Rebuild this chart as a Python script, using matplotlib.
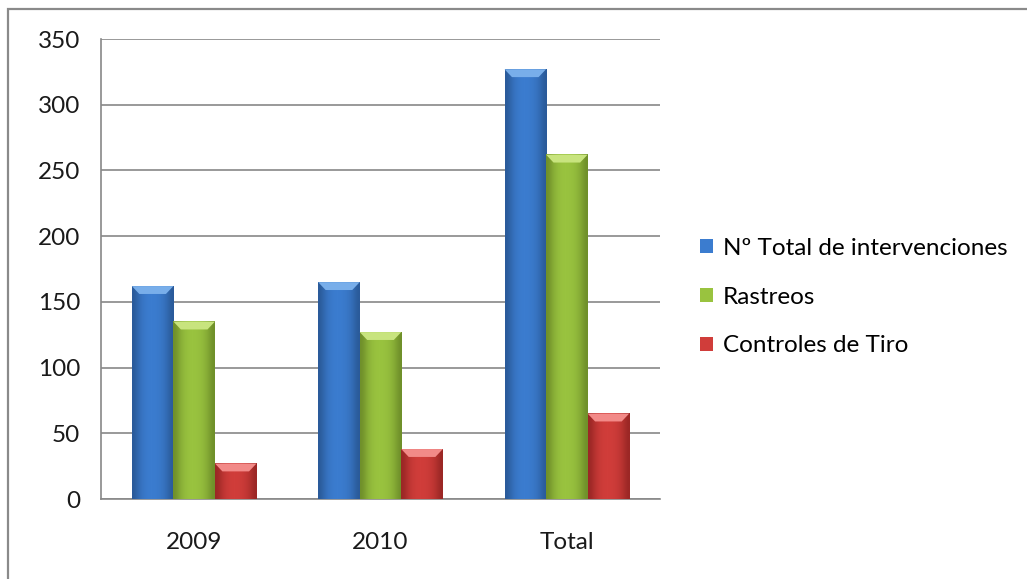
import numpy as np
import matplotlib
matplotlib.use("Agg")
import matplotlib.pyplot as plt
from matplotlib.colors import LinearSegmentedColormap
from matplotlib.patches import Rectangle, Polygon

# Data
categories = ["2009", "2010", "Total"]
series_names = ["Nº Total de intervenciones", "Rastreos", "Controles de Tiro"]
total_interv = [162, 165, 327]
rastreos = [135, 127, 262]
controles = [27, 38, 65]
y_ticks = [0, 50, 100, 150, 200, 250, 300, 350]

base_cols = ["#3b7ccf", "#99c33f", "#d03d3a"]
dark_cols = ["#2a5a99", "#6f8f2a", "#9a2725"]
light_cols = ["#78aeea", "#c8e47e", "#f28a88"]

plt.rcParams["font.family"] = ["Lato", "DejaVu Sans"]

fig = plt.figure(figsize=(10.27, 5.79), dpi=100)
ax = fig.add_axes([101/1027, 1 - 499/579, 559/1027, 460/579])

x = np.arange(len(categories))
w = 0.223
containers = []
for i, vals in enumerate([total_interv, rastreos, controles]):
    bc = ax.bar(x + (i - 1) * w, vals, w, color=base_cols[i], label=series_names[i], zorder=3)
    containers.append(bc)

# fake the bevelled look of the bars
grad = np.array([[0.0, 0.55, 0.85, 1.0, 1.0, 0.95, 0.8, 0.5, 0.0]])
for i, bc in enumerate(containers):
    cmap = LinearSegmentedColormap.from_list("c%d" % i, [dark_cols[i], base_cols[i]])
    for b in bc:
        x0, bw, h = b.get_x(), b.get_width(), b.get_height()
        ax.imshow(grad, extent=(x0, x0 + bw, 0, h), aspect="auto", cmap=cmap,
                  interpolation="bicubic", zorder=4)
        dx = bw * 0.18
        dy = min(6, h * 0.3)
        ax.add_patch(Polygon([(x0, h), (x0 + bw, h), (x0 + bw - dx, h - dy), (x0 + dx, h - dy)],
                             closed=True, color=light_cols[i], lw=0, zorder=5))

ax.set_xlim(-0.5, 2.5)
ax.set_ylim(0, 350)
ax.set_xticks(x)
ax.set_xticklabels(categories)
ax.set_yticks(y_ticks)
ax.tick_params(axis="both", length=0, labelsize=17.5, colors="#1a1a1a")
ax.tick_params(axis="y", pad=15)
ax.tick_params(axis="x", pad=24)
ax.grid(axis="y", color="#888888", lw=1.2, zorder=0)
ax.set_axisbelow(True)
for s in ["top", "right"]:
    ax.spines[s].set_visible(False)
for s in ["left", "bottom"]:
    ax.spines[s].set_color("#888888")
    ax.spines[s].set_linewidth(1.2)

fig.legend(handles=containers, labels=series_names, loc="center left",
           bbox_to_anchor=(700/1027, 1 - 297/579), frameon=False, fontsize=17.5,
           borderpad=0, borderaxespad=0,
           handlelength=0.55, handleheight=0.55, handletextpad=0.4, labelspacing=1.15)

# outer chart border (only top/left visible in the picture)
fig.add_artist(Rectangle((8/1027, -0.1), 1.2, 0.1 + 1 - 9/579, transform=fig.transFigure,
                         fill=False, edgecolor="#8a8a8a", lw=1.6, clip_on=False))

fig.savefig("out.png", dpi=100)
